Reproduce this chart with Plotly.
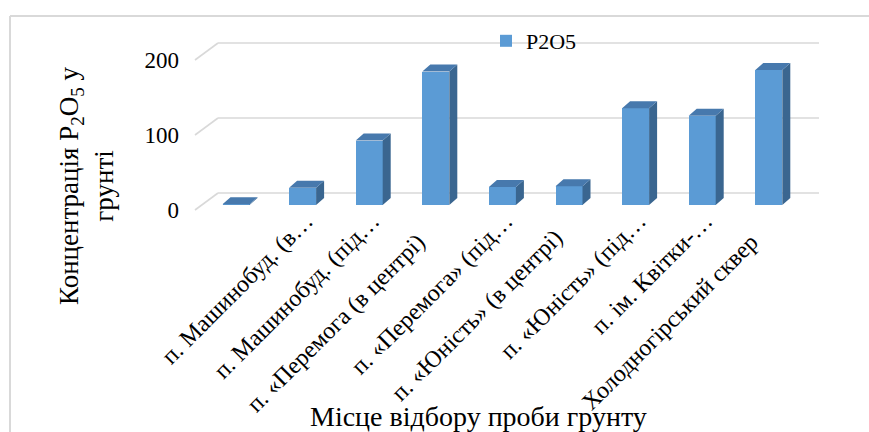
import plotly.graph_objects as go

# ---- data -------------------------------------------------------------
categories = [
    "",
    "п. Машинобуд. (в…",
    "п. Машинобуд. (під…",
    "п. «Перемога (в центрі)",
    "п. «Перемога» (під…",
    "п. «Юність» (в центрі)",
    "п. «Юність» (під…",
    "п. ім. Квітки-…",
    "Холодногірський сквер",
]
p2o5 = [1, 23, 86, 178, 24, 25, 129, 119, 180]
y_ticks = [0, 100, 200]
series_name = "P2O5"
y_title = "Концентрація P<sub>2</sub>O<sub>5</sub> у<br>грунті"
x_title = "Місце відбору проби грунту"

# ---- page geometry (pixels) ------------------------------------------
W, H = 869, 432
L, R, T, B = 180, 19, 20, 217
PLOT_W, PLOT_H = W - L - R, H - T - B
CAT_PX = 66.6        # distance between neighbouring categories
FIRST_PX = 236       # x of the first category
UNIT_PX = 0.75       # pixels per unit of concentration
ZERO_PX = 210        # y of value 0 on the front plane
LABEL_LIFT_PX = 14   # category labels sit a little above the plot bottom

x_range = [(L - FIRST_PX) / CAT_PX, (W - R - FIRST_PX) / CAT_PX]
y_range = [(ZERO_PX - (H - B)) / UNIT_PX, (ZERO_PX - T) / UNIT_PX]


def px_x(p):
    return (p - L) / PLOT_W


def px_y(p):
    return (H - B - p) / PLOT_H


# pseudo-3D depth of the walls and of the bars (data units)
wall_dx, wall_dy = 23 / CAT_PX, 17 / UNIT_PX
wall_x0, wall_x1 = (218 - FIRST_PX) / CAT_PX, (819 - FIRST_PX) / CAT_PX
bar_w = 27 / CAT_PX
bar_base = 5 / UNIT_PX
bar_dx, bar_dy = 8 / CAT_PX, 7 / UNIT_PX
label_shift = 0.05
# untruncated labels are centred in the label slot, so they sit lower:
# pad them at the end with no-break spaces
label_pad = [0, 0, 0, 5, 0, 4, 0, 0, 5]

FRONT = "#5B9BD5"
TOP = "#4779AD"
SIDE = "#3A6690"
GRID = "#D9D9D9"
FONT = "Times New Roman, Liberation Serif, DejaVu Serif, serif"

xs = list(range(len(categories)))
tick_text = [c + "\u00a0" * n for c, n in zip(categories, label_pad)]

fig = go.Figure()

# front faces
fig.add_trace(go.Bar(
    x=xs, y=p2o5, base=bar_base, width=bar_w,
    marker=dict(color=FRONT, line=dict(width=0)),
    name=series_name, showlegend=True, hoverinfo="skip",
))

# right-hand side faces
sx, sy = [], []
for x, v in zip(xs, p2o5):
    xr = x + bar_w / 2
    sx += [xr, xr + bar_dx, xr + bar_dx, xr, xr, None]
    sy += [bar_base, bar_base + bar_dy, bar_base + v + bar_dy, bar_base + v, bar_base, None]
fig.add_trace(go.Scatter(
    x=sx, y=sy, mode="none", fill="toself", fillcolor=SIDE,
    showlegend=False, hoverinfo="skip",
))

# top faces
tx, ty = [], []
for x, v in zip(xs, p2o5):
    xl, xr = x - bar_w / 2, x + bar_w / 2
    top = bar_base + v
    tx += [xl, xr, xr + bar_dx, xl + bar_dx, xl, None]
    ty += [top, top, top + bar_dy, top + bar_dy, top, None]
fig.add_trace(go.Scatter(
    x=tx, y=ty, mode="none", fill="toself", fillcolor=TOP,
    showlegend=False, hoverinfo="skip",
))

shapes = []
# back-wall gridlines and the left-wall diagonals
for v in y_ticks:
    shapes.append(dict(type="line", xref="x", yref="y", layer="below",
                       x0=wall_x0, x1=wall_x1, y0=v + wall_dy, y1=v + wall_dy,
                       line=dict(color=GRID, width=1.6)))
    shapes.append(dict(type="line", xref="x", yref="y", layer="below",
                       x0=wall_x0 - wall_dx, x1=wall_x0, y0=v, y1=v + wall_dy,
                       line=dict(color=GRID, width=1.6)))
# chart-area frame
shapes.append(dict(type="line", xref="paper", yref="paper", layer="below",
                   x0=px_x(10), x1=px_x(W + 5), y0=px_y(16), y1=px_y(16),
                   line=dict(color=GRID, width=2)))
shapes.append(dict(type="line", xref="paper", yref="paper", layer="below",
                   x0=px_x(10), x1=px_x(10), y0=px_y(16), y1=px_y(H + 5),
                   line=dict(color=GRID, width=2)))

annotations = [
    dict(text=y_title, xref="paper", yref="paper", x=px_x(86), y=px_y(186),
         xanchor="center", yanchor="middle", textangle=-90, showarrow=False,
         font=dict(family=FONT, size=27, color="#000000")),
    dict(text=x_title, xref="paper", yref="paper", x=px_x(478), y=px_y(416),
         xanchor="center", yanchor="middle", showarrow=False,
         font=dict(family=FONT, size=28, color="#000000")),
]

fig.update_layout(
    width=W, height=H,
    margin=dict(l=L, r=R, t=T, b=B, pad=0),
    paper_bgcolor="white", plot_bgcolor="white",
    bargap=0,
    shapes=shapes,
    annotations=annotations,
    showlegend=True,
    legend=dict(x=px_x(486), y=px_y(20), xanchor="left", yanchor="top",
                orientation="h", bgcolor="rgba(0,0,0,0)",
                font=dict(family=FONT, size=22, color="#000000")),
    xaxis=dict(range=x_range, showgrid=False, zeroline=False, showline=False,
               anchor="free", position=LABEL_LIFT_PX / PLOT_H,
               ticks="", tickmode="array",
               tickvals=[x + label_shift for x in xs[1:]],
               ticktext=tick_text[1:], tickangle=-45,
               tickfont=dict(family=FONT, size=24, color="#000000")),
    yaxis=dict(range=y_range, showgrid=False, zeroline=False, showline=False,
               ticks="", tickmode="array", tickvals=y_ticks,
               ticktext=[str(v) for v in y_ticks],
               tickfont=dict(family=FONT, size=23, color="#000000")),
)

fig.write_html("out.html")
